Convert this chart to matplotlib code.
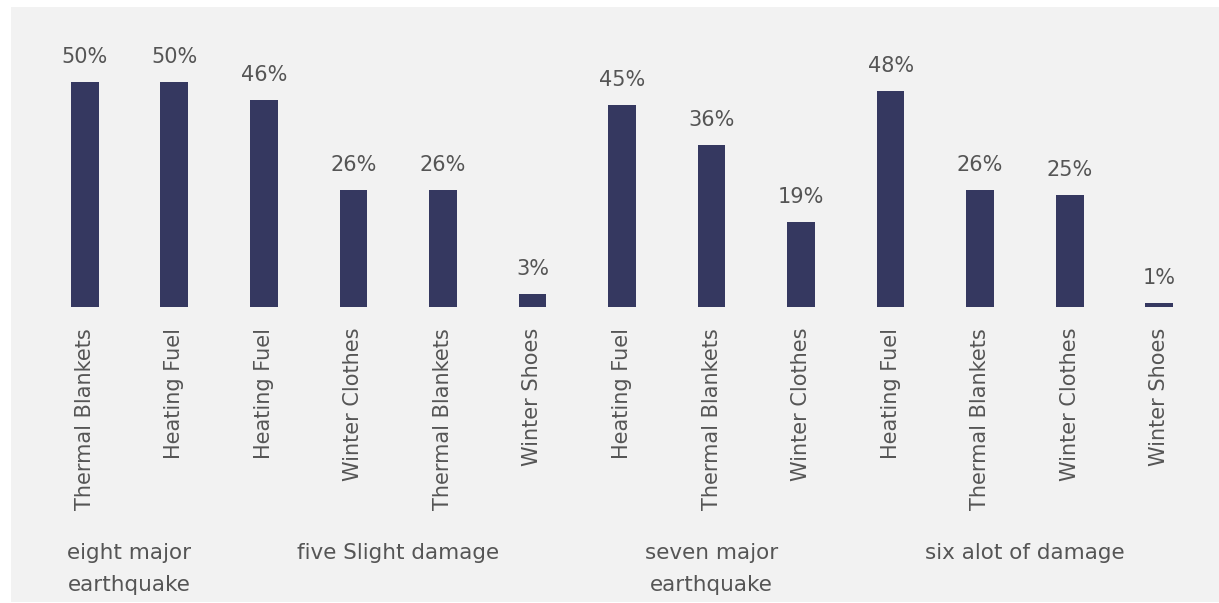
import matplotlib.pyplot as plt
from matplotlib.patches import Rectangle

# data
items = ["Thermal Blankets", "Heating Fuel",
         "Heating Fuel", "Winter Clothes", "Thermal Blankets", "Winter Shoes",
         "Heating Fuel", "Thermal Blankets", "Winter Clothes",
         "Heating Fuel", "Thermal Blankets", "Winter Clothes", "Winter Shoes"]
values = [50, 50, 46, 26, 26, 3, 45, 36, 19, 48, 26, 25, 1]
groups = ["eight major\nearthquake", "five Slight damage",
          "seven major\nearthquake", "six alot of damage"]
group_sizes = [2, 4, 3, 4]

bar_color = "#353860"
text_color = "#555555"

fig = plt.figure(figsize=(12.19, 6.03), dpi=100)
fig.patch.set_facecolor("white")
# light grey panel behind the chart
fig.add_artist(Rectangle((11 / 1219, 1 / 603), 1 - 11 / 1219, 595 / 603,
                         transform=fig.transFigure, facecolor="#f2f2f2",
                         edgecolor="none", zorder=-10))

ax = fig.add_axes([40 / 1219, 296 / 603, 1164 / 1219, 247.5 / 603])
ax.set_facecolor("none")

x = list(range(len(values)))
bars = ax.bar(x, values, width=0.31, color=bar_color)
for b, v in zip(bars, values):
    ax.annotate(f"{v}%", (b.get_x() + b.get_width() / 2, v),
                xytext=(0, 10.5), textcoords="offset points",
                ha="center", va="bottom", fontsize=15, color=text_color)

ax.set_xlim(-0.5, len(values) - 0.5)
ax.set_ylim(0, 55)
ax.set_xticks(x)
ax.set_xticklabels(items, rotation=90, fontsize=15, color=text_color)
ax.tick_params(axis="x", length=0, pad=15)
ax.set_yticks([])
for s in ax.spines.values():
    s.set_visible(False)

# group labels under the item labels
start = 0
for g, n in zip(groups, group_sizes):
    mid = start + (n - 1) / 2
    ax.text(mid, -0.955, g, transform=ax.get_xaxis_transform(),
            ha="center", va="top", fontsize=15.5, color=text_color,
            linespacing=1.7)
    start += n

plt.savefig("out.png", dpi=100)
